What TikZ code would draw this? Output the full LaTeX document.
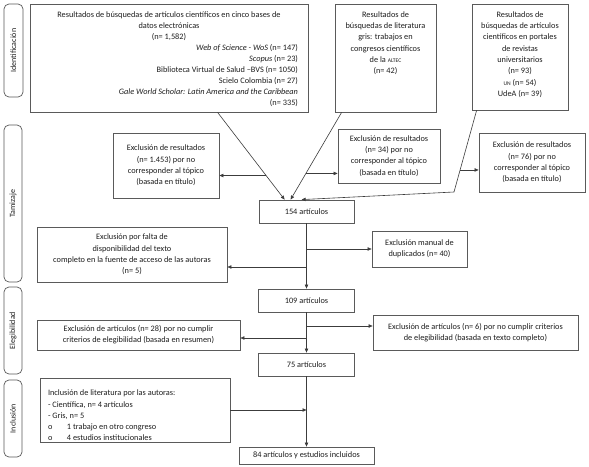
\documentclass[tikz,border=0pt]{standalone}
\usepackage{fontspec}
\setmainfont{Carlito}
\usetikzlibrary{arrows.meta,calc}
\definecolor{boxgray}{HTML}{5A5A5A}
\definecolor{linegray}{HTML}{3C3C3C}
\definecolor{txt}{HTML}{1E1E1E}
\begin{document}
\begin{tikzpicture}[x=1pt,y=-1pt,
  box/.style={draw=boxgray,line width=0.8pt,inner sep=0pt,align=center,text=txt,font=\fontsize{8.3}{11.3}\selectfont},
  side/.style={draw=boxgray,line width=0.7pt,rounded corners=5pt,inner sep=0pt,text=txt,font=\fontsize{8}{10}\selectfont,rotate=90},
  conn/.style={draw=linegray,line width=0.6pt},
  arr/.style={conn,-{Triangle[length=4pt,width=3.4pt]}}]
\useasboundingbox (0,0) rectangle (589,466);
\fill[white] (0,0) rectangle (589,466);

% side labels
\node[side,minimum width=93pt,minimum height=19pt] (s1) at (13.5,50.5) {Identificación};
\node[side,minimum width=157pt,minimum height=18pt] (s2) at (13,203.5) {Tamizaje};
\node[side,minimum width=87pt,minimum height=18pt] (s3) at (13,330.5) {Elegibilidad};
\node[side,minimum width=77pt,minimum height=18pt] (s4) at (13,418.5) {Inclusión};

% top boxes
\node[box,minimum width=278pt,minimum height=108pt] (b1) at (169,58)
 {\parbox[c][93pt][t]{258pt}{\fontsize{8.3}{11}\selectfont{\centering Resultados de búsquedas de artículos científicos en cinco bases de\\ datos electrónicas\\ (n= 1,582)\par}{\raggedleft\textit{Web of Science - WoS} (n= 147)\\ \textit{Scopus} (n= 23)\\ Biblioteca Virtual de Salud –BVS (n= 1050)\\ Scielo Colombia (n= 27)\\ \textit{Gale World Scholar: Latin America and the Caribbean}\\ (n= 335)\par}}};
\node[box,minimum width=101pt,minimum height=108pt] (b2) at (385.5,58)
 {\parbox[c][93pt][t]{95pt}{\centering Resultados de\\ búsquedas de literatura\\ gris: trabajos en\\ congresos científicos\\ de la {\fontsize{5.6}{11.3}\selectfont ALTEC}\\ (n= 42)\par}};
\node[box,minimum width=96pt,minimum height=106pt] (b3) at (520,57)
 {\parbox[c][91pt][t]{92pt}{\centering Resultados de\\ búsquedas de artículos\\ científicos en portales\\ de revistas\\ universitarios\\ (n= 93)\\ {\fontsize{5.6}{11.3}\selectfont UN} (n= 54)\\ UdeA (n= 39)\par}};

% exclusion row 1
\node[box,minimum width=106pt,minimum height=65pt] (ex1) at (166,165.5)
 {Exclusión de resultados\\ (n= 1.453) por no\\ corresponder al tópico\\ (basada en título)};
\node[box,minimum width=102pt,minimum height=54pt] (ex2) at (389,156)
 {Exclusión de resultados\\ (n= 34) por no\\ corresponder al tópico\\ (basada en título)};
\node[box,minimum width=106pt,minimum height=59pt] (ex3) at (532,162.5)
 {Exclusión de resultados\\ (n= 76) por no\\ corresponder al tópico\\ (basada en título)};

% flow boxes
\node[box,minimum width=95pt,minimum height=23pt] (n154) at (306.5,211.5) {154 artículos};
\node[box,minimum width=95pt,minimum height=36pt] (dup) at (419.5,249) {Exclusión manual de\\ duplicados (n= 40)};
\node[box,minimum width=190pt,minimum height=55pt] (falta) at (132,254.5)
 {Exclusión por falta de\\ disponibilidad del texto\\ completo en la fuente de acceso de las autoras\\ (n= 5)};
\node[box,minimum width=96pt,minimum height=23pt] (n109) at (306.5,300.5) {109 artículos};
\node[box,minimum width=203pt,minimum height=30pt] (ex28) at (138.5,335)
 {Exclusión de artículos (n= 28) por no cumplir\\ criterios de elegibilidad (basada en resumen)};
\node[box,minimum width=205pt,minimum height=35pt] (ex6) at (475.5,332.5)
 {Exclusión de artículos (n= 6) por no cumplir criterios\\ de elegibilidad (basada en texto completo)};
\node[box,minimum width=96pt,minimum height=23pt] (n75) at (306.5,364.5) {75 artículos};
\node[box,minimum width=190pt,minimum height=64pt] (incl) at (135,410)
 {\parbox[c][62pt][b]{174pt}{\raggedright Inclusión de literatura por las autoras:\\ - Científica, n= 4 artículos\\ - Gris, n= 5\\ \makebox[19pt][l]{o}1 trabajo en otro congreso\\ \makebox[19pt][l]{o}4 estudios institucionales\par}};
\node[box,minimum width=135pt,minimum height=17pt] (n84) at (306.5,455.5) {84 artículos y estudios incluidos};

% top connectors
\coordinate (k3) at (454,192);
\draw[arr] ([xshift=188pt]b1.south west) -- coordinate[pos=0.724] (m1) ([xshift=26pt]n154.north west);
\draw[arr] ([xshift=7pt]b2.south west) -- coordinate[pos=0.70] (m2) ([xshift=32pt]n154.north west);
\draw[arr] ([xshift=5pt]b3.south west) -- coordinate[pos=0.73] (m3) (k3) -- ([xshift=43pt]n154.north west);
\draw[arr] (m1) -- (m1 -| ex1.east);
\draw[arr] (m2) -- (m2 -| ex2.west);
\draw[arr] (m3) -- (m3 -| ex3.west);

% central flow
\coordinate (c1) at (306.5,249);
\coordinate (c2) at (306.5,267);
\coordinate (c3) at (306.5,326);
\coordinate (c4) at (306.5,338);
\draw[arr] (n154.south) -- (n109.north);
\draw[arr] (c1) -- (c1 -| dup.west);
\draw[arr] (c2) -- (c2 -| falta.east);
\draw[arr] (n109.south) -- (n75.north);
\draw[arr] (c3) -- (c3 -| ex6.west);
\draw[arr] (c4) -- (c4 -| ex28.east);
\draw[arr] (n75.south) -- (n84.north);
\draw[arr] (incl.east) -- (incl.east -| n75.south);
\end{tikzpicture}
\end{document}
